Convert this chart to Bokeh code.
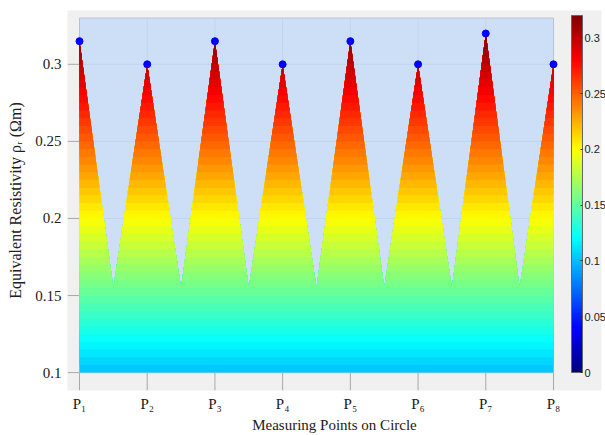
import numpy as np
from bokeh.plotting import figure
from bokeh.models import ColorBar, LinearColorMapper, FixedTicker, Range1d
from bokeh.embed import file_html
from bokeh.resources import INLINE

# ---- data ----
points = [1, 2, 3, 4, 5, 6, 7, 8]
point_labels = ["P\u2081", "P\u2082", "P\u2083", "P\u2084", "P\u2085", "P\u2086", "P\u2087", "P\u2088"]
peak_values = [0.315, 0.300, 0.315, 0.300, 0.315, 0.300, 0.320, 0.300]
trough_values = [0.155, 0.155, 0.155, 0.155, 0.155, 0.155, 0.155]
y_ticks = [0.1, 0.15, 0.2, 0.25, 0.3]
y_tick_labels = ["0.1", "0.15", "0.2", "0.25", "0.3"]
cb_ticks = [0, 0.05, 0.1, 0.15, 0.2, 0.25, 0.3]
cb_tick_labels = ["0", "0.05", "0.1", "0.15", "0.2", "0.25", "0.3"]
x_title = "Measuring Points on Circle"
y_title = "Equivalent Resistivity \u03c1\u1d63 (\u03a9m)"
c_low, c_high = 0.0, 0.32
fill_base = 0.1
y_top = 0.33
level_step = 0.005

X_START, X_END = 0.8228, 8.709
Y_START, Y_END = 0.0884, 0.3349


def jet(t):
    t = min(max(t, 0.0), 1.0)
    r = min(max(1.5 - abs(4 * t - 3), 0), 1)
    g = min(max(1.5 - abs(4 * t - 2), 0), 1)
    b = min(max(1.5 - abs(4 * t - 1), 0), 1)
    return "#%02x%02x%02x" % (int(round(r * 255)), int(round(g * 255)), int(round(b * 255)))


palette = [jet(i / 255) for i in range(256)]

# zigzag curve: peaks at points, troughs at midpoints
cx, cy = [], []
for i, (x, v) in enumerate(zip(points, peak_values)):
    cx.append(x)
    cy.append(v)
    if i < len(trough_values):
        cx.append((x + points[i + 1]) / 2)
        cy.append(trough_values[i])

levels = np.arange(fill_base, c_high, level_step)
band_xs, band_ys, band_colors = [], [], []
for l in levels:
    xs, ys = [], []
    for i in range(len(cx) - 1):
        x0, y0, x1, y1 = cx[i], cy[i], cx[i + 1], cy[i + 1]
        xs.append(x0)
        ys.append(max(y0, l))
        if (y0 - l) * (y1 - l) < 0:
            xs.append(x0 + (l - y0) * (x1 - x0) / (y1 - y0))
            ys.append(l)
    xs.append(cx[-1]); ys.append(max(cy[-1], l))
    xs += [cx[-1], cx[0]]
    ys += [l, l]
    band_xs.append(xs)
    band_ys.append(ys)
    band_colors.append(jet((l + level_step / 2 - c_low) / (c_high - c_low)))

p = figure(width=605, height=435, output_backend="svg", toolbar_location=None,
           x_range=Range1d(X_START, X_END), y_range=Range1d(Y_START, Y_END),
           min_border_left=67, min_border_top=10, min_border_right=4, min_border_bottom=43)
p.background_fill_color = "#f0f0f0"
p.border_fill_color = "white"
p.outline_line_color = None
p.grid.visible = False

# grid lines (drawn under the blue area)
p.segment(x0=[X_START] * len(y_ticks), y0=y_ticks, x1=[points[-1]] * len(y_ticks), y1=y_ticks,
          line_color="#a8a8a8", line_width=1)
p.segment(x0=points, y0=[Y_START] * len(points), x1=points, y1=[y_top] * len(points),
          line_color="#a8a8a8", line_width=1)

# blue background area
p.quad(left=points[0], right=points[-1], bottom=fill_base, top=y_top,
       fill_color="#c7dcf7", fill_alpha=0.86, line_color="#b8c4d4", line_width=1)

# filled bands
p.patches(xs=band_xs, ys=band_ys, fill_color=band_colors, line_color=None)

# peak markers
p.scatter(points, peak_values, size=7, fill_color="#0000ff", line_color="#0000ff")

font = "Liberation Serif"
for ax in (p.xaxis[0], p.yaxis[0]):
    ax.axis_line_color = None
    ax.major_tick_line_color = None
    ax.minor_tick_line_color = None
    ax.major_tick_out = 0
    ax.major_tick_in = 0
    ax.minor_tick_out = 0
    ax.minor_tick_in = 0
    ax.major_label_text_font = font
    ax.major_label_text_font_size = "15px"
    ax.major_label_text_color = "#202020"
    ax.axis_label_text_font = font
    ax.axis_label_text_font_size = "15px"
    ax.axis_label_text_font_style = "normal"
    ax.axis_label_text_color = "#202020"

p.xaxis.ticker = FixedTicker(ticks=points)
p.xaxis.major_label_overrides = {x: lab for x, lab in zip(points, point_labels)}
p.xaxis.major_label_standoff = 5
p.xaxis.axis_label = x_title
p.xaxis.axis_label_standoff = 2

p.yaxis.ticker = FixedTicker(ticks=y_ticks)
p.yaxis.major_label_overrides = {y: lab for y, lab in zip(y_ticks, y_tick_labels)}
p.yaxis.major_label_standoff = 6
p.yaxis.axis_label = y_title
p.yaxis.axis_label_text_font_size = "16px"
p.yaxis.axis_label_standoff = 8

mapper = LinearColorMapper(palette=palette, low=c_low, high=c_high)
cb = ColorBar(color_mapper=mapper, ticker=FixedTicker(ticks=cb_ticks),
              major_label_overrides={t: lab for t, lab in zip(cb_ticks, cb_tick_labels)},
              width=11, height=357, location=(504, 18), padding=0, margin=0,
              background_fill_color="#f0f0f0", background_fill_alpha=0.0,
              border_line_color=None,
              bar_line_color="#666666", bar_line_width=1,
              major_label_text_font="Liberation Sans Narrow, Liberation Sans",
              major_label_text_font_size="11px", major_label_text_color="#202020",
              label_standoff=2, major_tick_line_color="#333333",
              major_tick_in=2, major_tick_out=0, minor_tick_line_color=None)
p.add_layout(cb)

open("out.html", "w").write(file_html(p, INLINE))
